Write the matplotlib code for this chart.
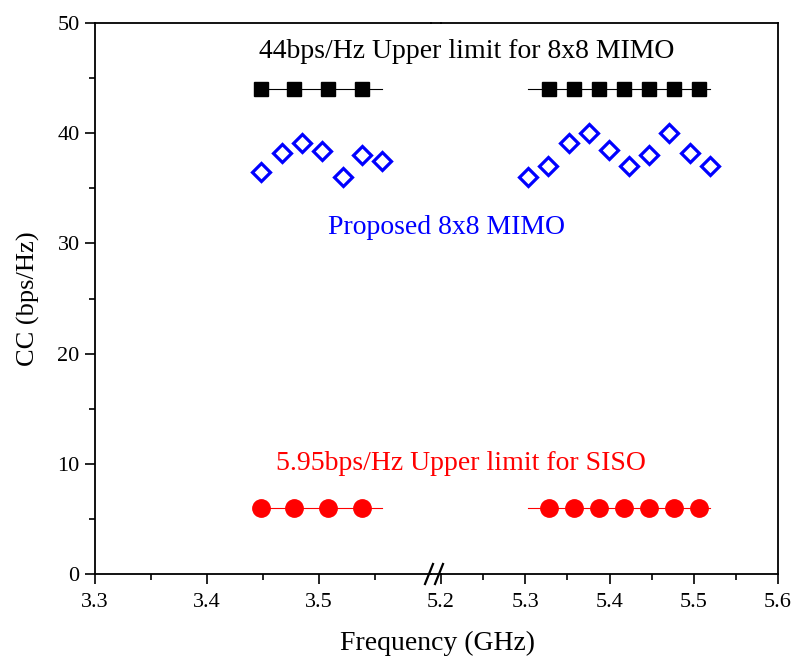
import matplotlib
matplotlib.use('Agg')
import matplotlib.pyplot as plt
from matplotlib.ticker import MultipleLocator

plt.rcParams['font.family'] = ['Liberation Serif', 'DejaVu Serif']
plt.rcParams['xtick.direction'] = 'out'
plt.rcParams['ytick.direction'] = 'out'

# upper limits (markers) - low band / high band
freq_lim_low = [3.448, 3.478, 3.508, 3.538]
freq_lim_high = [5.328, 5.358, 5.388, 5.417, 5.447, 5.477, 5.506]
# span of the thin limit lines
span_low = [3.443, 3.556]
span_high = [5.303, 5.519]
mimo_limit = 44.0
siso_limit = 5.95

# proposed 8x8 MIMO channel capacity
freq_prop_low = [3.448, 3.467, 3.485, 3.503, 3.521, 3.538, 3.556]
cc_prop_low = [36.5, 38.2, 39.1, 38.4, 36.0, 38.0, 37.5]
freq_prop_high = [5.303, 5.327, 5.352, 5.376, 5.399, 5.423, 5.447, 5.471, 5.496, 5.519]
cc_prop_high = [36.0, 37.0, 39.1, 40.0, 38.5, 37.0, 38.0, 40.0, 38.2, 37.0]

W, H = 794, 664
fig = plt.figure(figsize=(W / 100, H / 100), dpi=100)
L, R, B, T = 95 / W, 778 / W, 1 - 574 / H, 1 - 23 / H
x1, x2 = 431 / W, 441 / W
ax1 = fig.add_axes([L, B, x1 - L, T - B])
ax2 = fig.add_axes([x2, B, R - x2, T - B], sharey=ax1)

for ax, fl, span, fp, cp in [(ax1, freq_lim_low, span_low, freq_prop_low, cc_prop_low),
                             (ax2, freq_lim_high, span_high, freq_prop_high, cc_prop_high)]:
    ax.plot(span, [mimo_limit] * 2, color='black', lw=0.8)
    ax.plot(fl, [mimo_limit] * len(fl), 's', color='black', ms=9.5)
    ax.plot(span, [siso_limit] * 2, color='red', lw=0.8)
    ax.plot(fl, [siso_limit] * len(fl), 'o', color='red', ms=12.5)
    ax.plot(fp, cp, 'D', mfc='none', mec='blue', mew=2.3, ms=9.5)
    ax.set_ylim(0, 50)
    ax.xaxis.set_major_locator(MultipleLocator(0.1))
    ax.xaxis.set_minor_locator(MultipleLocator(0.05))
    ax.tick_params(which='major', length=7, width=1.2, labelsize=16, pad=7, top=False, right=False)
    ax.tick_params(which='minor', length=4.5, width=1.2, top=False, right=False)
    ax.tick_params(axis='y', pad=4)
    for s in ax.spines.values():
        s.set_linewidth(1.3)

ax1.set_xlim(3.3, 3.6)
ax2.set_xlim(5.2, 5.6)
ax1.spines['right'].set_visible(False)
ax2.spines['left'].set_visible(False)
ax2.tick_params(axis='y', which='both', left=False, labelleft=False)
ax1.yaxis.set_major_locator(MultipleLocator(10))
ax1.yaxis.set_minor_locator(MultipleLocator(5))
ax1.set_xticks([3.3, 3.4, 3.5])
ax1.set_xticks([3.35, 3.45, 3.55], minor=True)

# join the frame across the break and draw the // marks
for yy in (B, T):
    fig.add_artist(plt.Line2D([x1, x2], [yy, yy], color='black', lw=1.3))
for xc in (429, 439):
    fig.add_artist(plt.Line2D([(xc - 4) / W, (xc + 4) / W], [B - 10 / H, B + 10 / H],
                              color='black', lw=1.6))

fig.text(28 / W, 0.5 * (B + T), 'CC (bps/Hz)', rotation=90, ha='center', va='center', fontsize=19)
fig.text(437 / W, 1 - 643 / H, 'Frequency (GHz)', ha='center', va='center', fontsize=20)

fig.text(467 / W, 1 - 52 / H, '44bps/Hz Upper limit for 8x8 MIMO', ha='center', va='center',
         fontsize=20, color='black')
fig.text(446 / W, 1 - 227 / H, 'Proposed 8x8 MIMO', ha='center', va='center',
         fontsize=20, color='blue')
fig.text(461 / W, 1 - 464 / H, '5.95bps/Hz Upper limit for SISO', ha='center', va='center',
         fontsize=20, color='red')

fig.savefig('out.png', dpi=100)
